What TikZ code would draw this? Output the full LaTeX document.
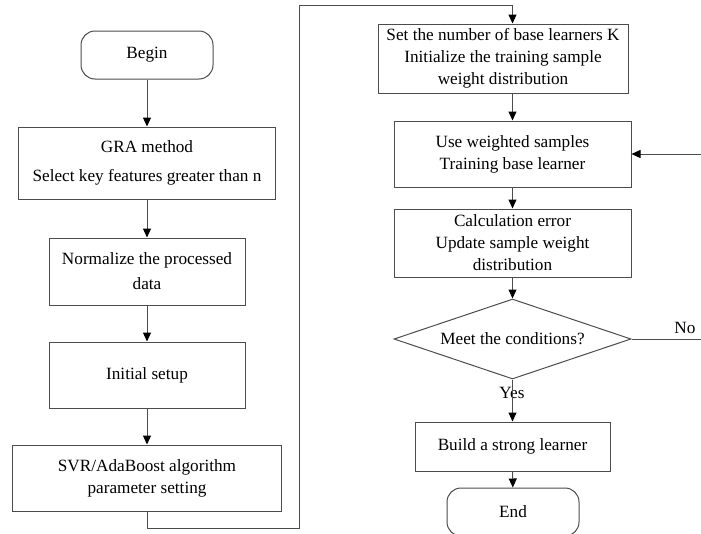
\documentclass[tikz,border=0pt]{standalone}
\usepackage{fontspec}
\setmainfont{Liberation Serif}
\usetikzlibrary{shapes.geometric,arrows.meta}
\begin{document}
\begin{tikzpicture}[x=1pt,y=-1pt,
  ln/.style={draw=black!70, line width=1pt},
  box/.style={ln, rectangle, align=center, inner sep=0pt, font=\fontsize{17.2}{22}\selectfont},
  term/.style={box, rounded corners=14pt},
  cond/.style={ln, diamond, aspect=2.96, inner sep=0pt, align=center, font=\fontsize{17.2}{22}\selectfont},
  lbl/.style={inner sep=0pt, font=\fontsize{17.2}{22}\selectfont},
  arr/.style={ln, -{Triangle[length=9pt,width=8pt,color=black,fill=black]}}]
\useasboundingbox (0,0) rectangle (701,533);
\clip (0,0) rectangle (701,533);
% left column
\node[term, minimum width=132pt, minimum height=48pt] (begin) at (147,55) {Begin};
\node[box, minimum width=257pt, minimum height=72pt, font=\fontsize{17.2}{29}\selectfont] (gra) at (147,163) {GRA method\\Select key features greater than n};
\node[box, minimum width=196pt, minimum height=67pt, font=\fontsize{17.2}{25}\selectfont] (norm) at (147,271.5) {Normalize the processed\\data};
\node[box, minimum width=196pt, minimum height=66pt] (init) at (147,375) {Initial setup};
\node[box, minimum width=269pt, minimum height=66pt] (svr) at (147,478) {SVR/AdaBoost algorithm\\parameter setting};
% right column
\node[box, minimum width=250pt, minimum height=69pt] (set) at (503,58.5) {Set the number of base learners K\\Initialize the training sample\\weight distribution};
\node[box, minimum width=237pt, minimum height=66pt] (use) at (512.5,154) {Use weighted samples\\Training base learner};
\node[box, minimum width=237pt, minimum height=68pt] (calc) at (512.5,243) {Calculation error\\Update sample weight\\distribution};
\node[cond, minimum width=237pt, minimum height=80pt] (dia) at (512.5,339) {Meet the conditions?};
\node[box, minimum width=195pt, minimum height=49pt] (build) at (512.5,446.5) {Build a strong learner};
\node[term, minimum width=132pt, minimum height=48pt] (end) at (513,512) {End};
% labels
\node[lbl] (yes) at (512,393) {Yes};
\node[lbl] (no) at (685,328) {No};
% connector coordinates
\coordinate (c1) at (147,528);
\coordinate (c2) at (299,528);
\coordinate (c3) at (299,5);
\coordinate (c4) at (512.5,5);
\coordinate (r1) at (701,339);
\coordinate (r2) at (701,154);
% connectors
\draw[arr] (begin) -- (gra);
\draw[arr] (gra) -- (norm);
\draw[arr] (norm) -- (init);
\draw[arr] (init) -- (svr);
\draw[arr] (svr.south) -- (c1) -- (c2) -- (c3) -- (c4) -- (set.north -| c4);
\draw[arr] (set.south -| use.north) -- (use.north);
\draw[arr] (use) -- (calc);
\draw[arr] (calc) -- (dia);
\draw[arr] (dia) -- (build);
\draw[arr] (build) -- (end);
\draw[ln] (dia.east) -- (r1);
\draw[arr] (r2) -- (use.east);
\end{tikzpicture}
\end{document}
